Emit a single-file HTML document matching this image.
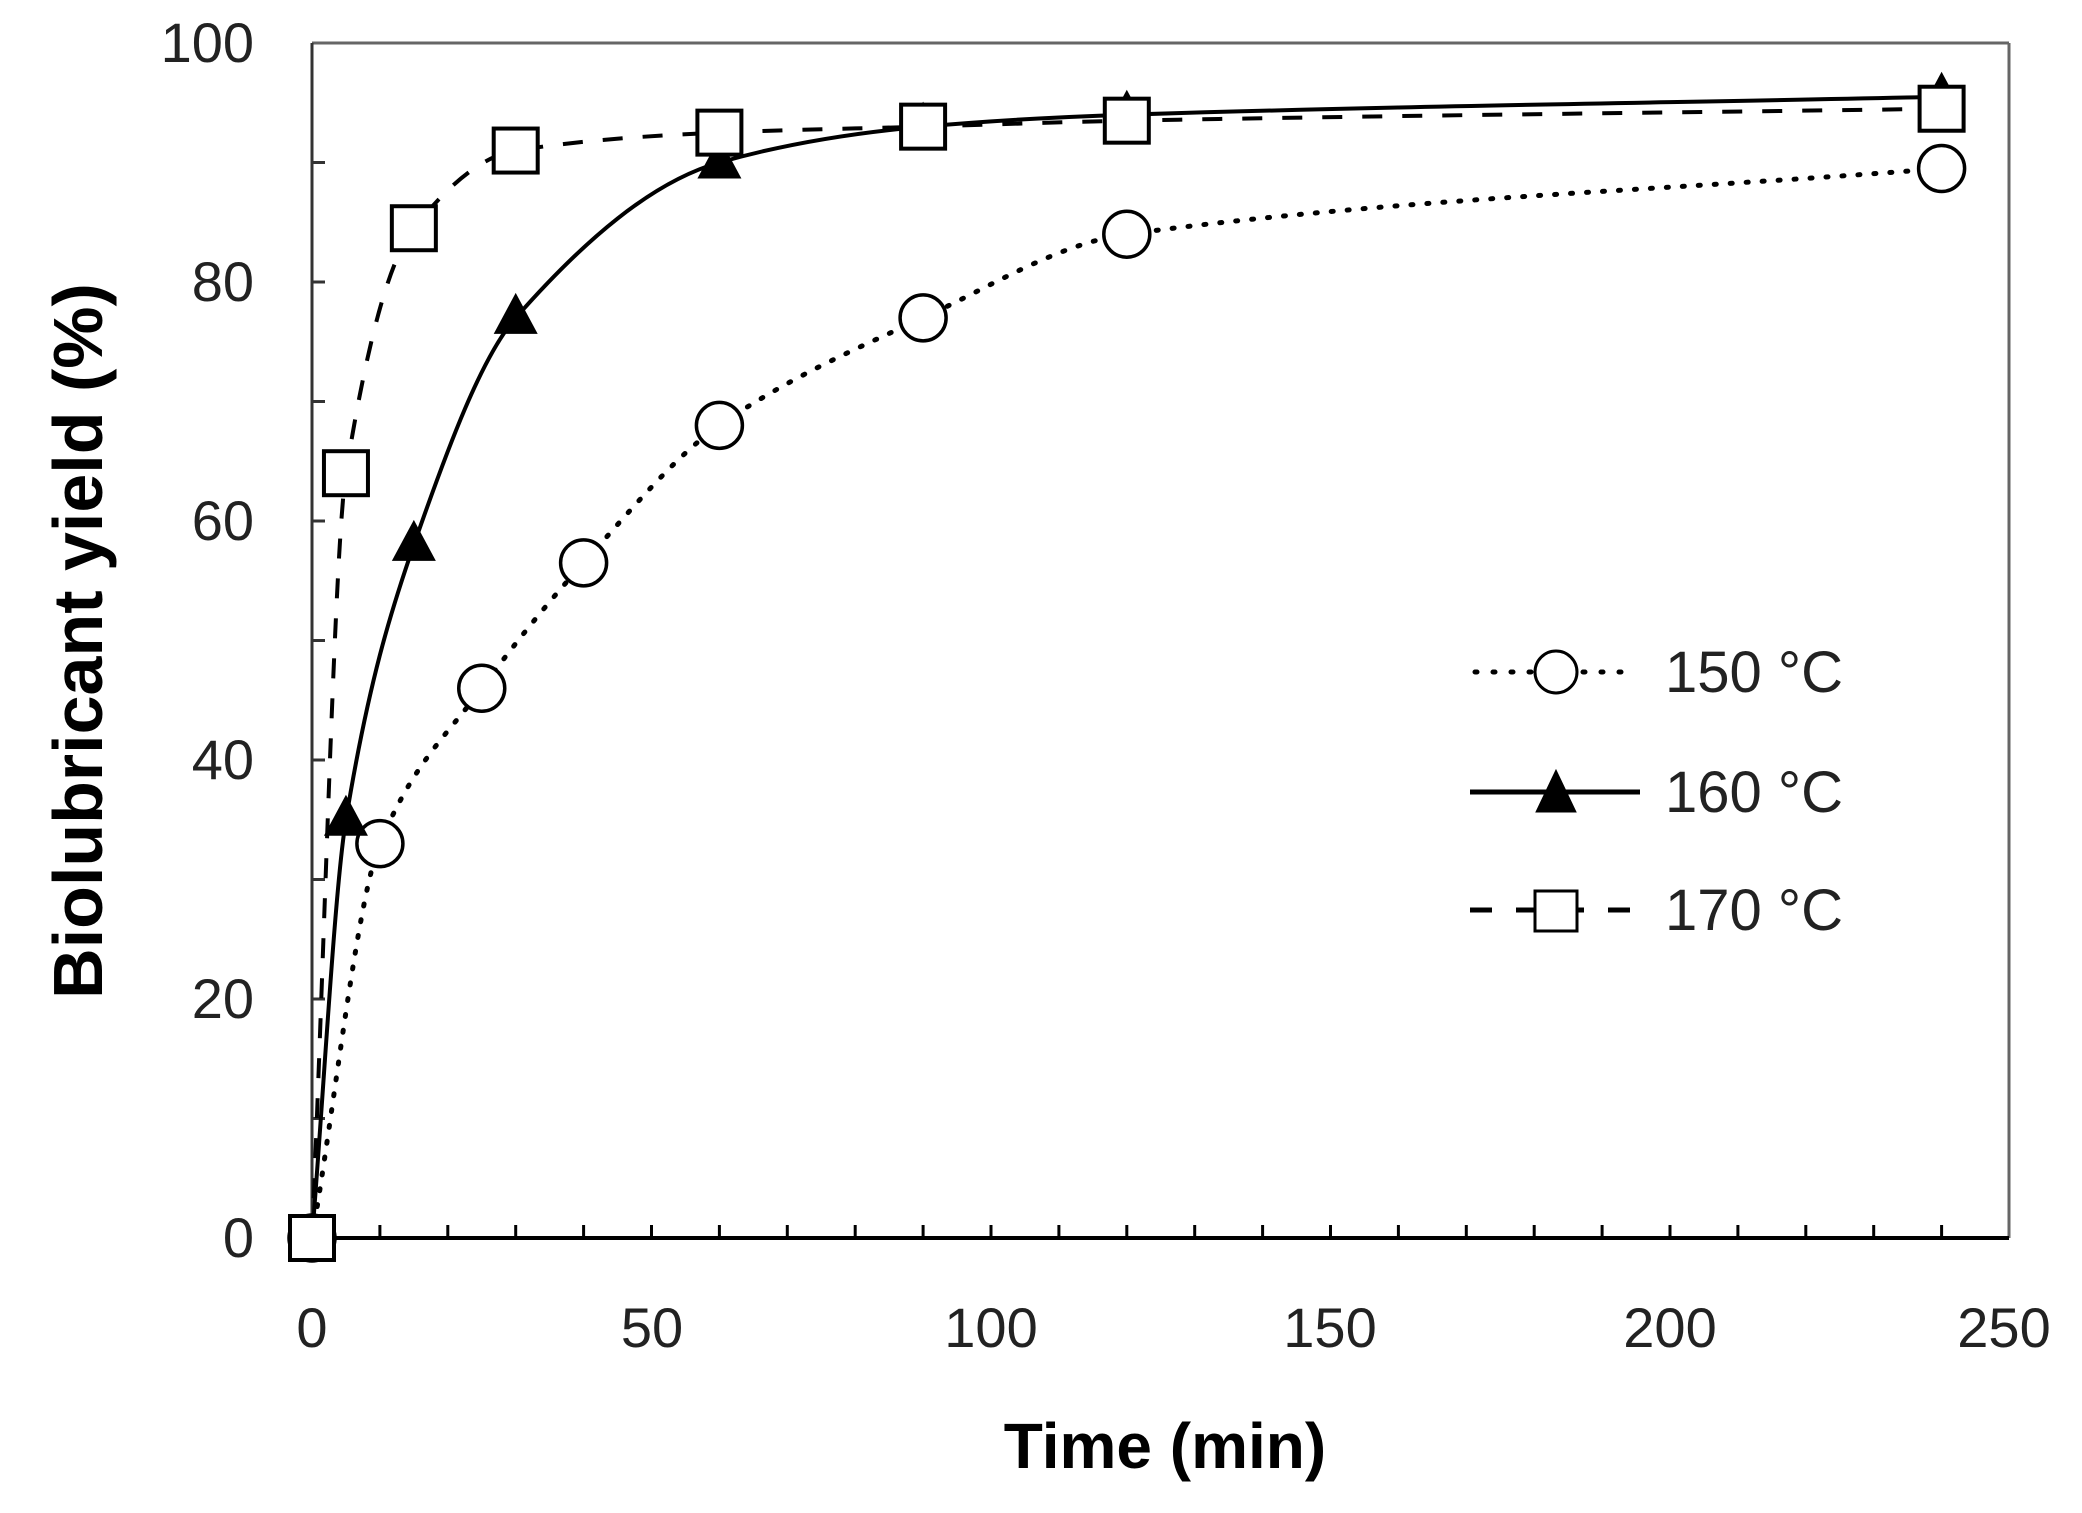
<!DOCTYPE html>
<html><head><meta charset="utf-8"><style>
html,body{margin:0;padding:0;background:#fff}
svg{display:block}
text{font-family:"Liberation Sans",sans-serif;fill:#222}
</style></head><body>
<svg id="s" width="2082" height="1513" viewBox="0 0 2082 1513" xmlns="http://www.w3.org/2000/svg">
<rect width="2082" height="1513" fill="#fff"/>
<g id="ticks"></g>
<line x1="312" y1="43" x2="2009" y2="43" stroke="#666" stroke-width="3"/>
<line x1="2009" y1="43" x2="2009" y2="1238" stroke="#666" stroke-width="3"/>
<line x1="312" y1="43" x2="312" y2="1238" stroke="#333" stroke-width="3"/>
<line x1="312" y1="1238" x2="2009" y2="1238" stroke="#000" stroke-width="4"/>
<g font-size="56" text-anchor="end">
<text x="254" y="62">100</text><text x="254" y="301">80</text><text x="254" y="540">60</text>
<text x="254" y="779">40</text><text x="254" y="1018">20</text><text x="254" y="1257">0</text>
</g>
<g font-size="56" text-anchor="middle">
<text x="312" y="1347">0</text><text x="652" y="1347">50</text><text x="991" y="1347">100</text>
<text x="1330" y="1347">150</text><text x="1670" y="1347">200</text><text x="2004" y="1347">250</text>
</g>
<text x="1165" y="1468" font-size="64" font-weight="bold" text-anchor="middle" style="fill:#000">Time (min)</text>
<text transform="translate(102,641) rotate(-90)" font-size="70" font-weight="bold" text-anchor="middle" style="fill:#000">Biolubricant yield (%)</text>
<g id="curves" fill="none" stroke="#000"></g>
<g id="marks"></g>
<g stroke="#000" fill="#fff">
<line x1="1475" y1="672" x2="1632" y2="672" stroke-width="5" stroke-dasharray="2,16" stroke-linecap="round"/>
<circle cx="1556" cy="672" r="21" stroke-width="3"/>
<line x1="1470" y1="792" x2="1640" y2="792" stroke-width="5"/>
<polygon points="1556,770 1536,812 1576,812" fill="#000"/>
<line x1="1470" y1="910" x2="1630" y2="910" stroke-width="5" stroke-dasharray="22,24"/>
<rect x="1535" y="891" width="42" height="40" stroke-width="3"/>
</g>
<g font-size="58"><text x="1665" y="692">150 °C</text><text x="1665" y="812">160 °C</text><text x="1665" y="930">170 °C</text></g>
</svg>
<script>
var NS="http://www.w3.org/2000/svg";
function X(t){return 312+t*6.79}function Y(v){return 1238-v*11.95}
function el(n,a,p){var e=document.createElementNS(NS,n);for(var k in a)e.setAttribute(k,a[k]);document.getElementById(p).appendChild(e);return e}
for(var v=10;v<100;v+=10)el("line",{x1:312,x2:325,y1:Y(v),y2:Y(v),stroke:"#333","stroke-width":3},"ticks");
for(var t=10;t<250;t+=10)el("line",{x1:X(t),x2:X(t),y1:1238,y2:1225,stroke:"#000","stroke-width":3},"ticks");
function mono(pts){var n=pts.length,xs=pts.map(p=>X(p[0])),ys=pts.map(p=>Y(p[1])),d=[],m=[];
for(var i=0;i<n-1;i++)d.push((ys[i+1]-ys[i])/(xs[i+1]-xs[i]));
m[0]=d[0];m[n-1]=d[n-2];for(i=1;i<n-1;i++){m[i]=(d[i-1]*d[i]<=0)?0:2/(1/d[i-1]+1/d[i]);}
var s="M"+xs[0]+","+ys[0];for(i=0;i<n-1;i++){var h=xs[i+1]-xs[i];
s+="C"+(xs[i]+h/3)+","+(ys[i]+m[i]*h/3)+" "+(xs[i+1]-h/3)+","+(ys[i+1]-m[i+1]*h/3)+" "+xs[i+1]+","+ys[i+1];}return s}
var A=[[0,0],[10,33],[25,46],[40,56.5],[60,68],[90,77],[120,84],[240,89.5]];
var B=[[0,0],[5,35],[15,58],[30,77],[60,90],[90,93],[120,94],[240,95.5]];
var C=[[0,0],[5,64],[15,84.5],[30,91],[60,92.5],[90,93],[120,93.5],[240,94.5]];
el("path",{d:mono(A),"stroke-width":5,"stroke-dasharray":"2,14","stroke-linecap":"round"},"curves");
el("path",{d:mono(B),"stroke-width":4},"curves");
el("path",{d:mono(C),"stroke-width":4,"stroke-dasharray":"20,20"},"curves");
A.forEach(p=>el("circle",{cx:X(p[0]),cy:Y(p[1]),r:23,fill:"#fff",stroke:"#000","stroke-width":3.5},"marks"));
B.forEach(p=>{var x=X(p[0]),y=Y(p[1]);el("polygon",{points:x+","+(y-25)+" "+(x-22)+","+(y+16)+" "+(x+22)+","+(y+16),fill:"#000"},"marks")});
C.forEach(p=>el("rect",{x:X(p[0])-22,y:Y(p[1])-22,width:44,height:44,fill:"#fff",stroke:"#000","stroke-width":4},"marks"));
</script>
</body></html>
